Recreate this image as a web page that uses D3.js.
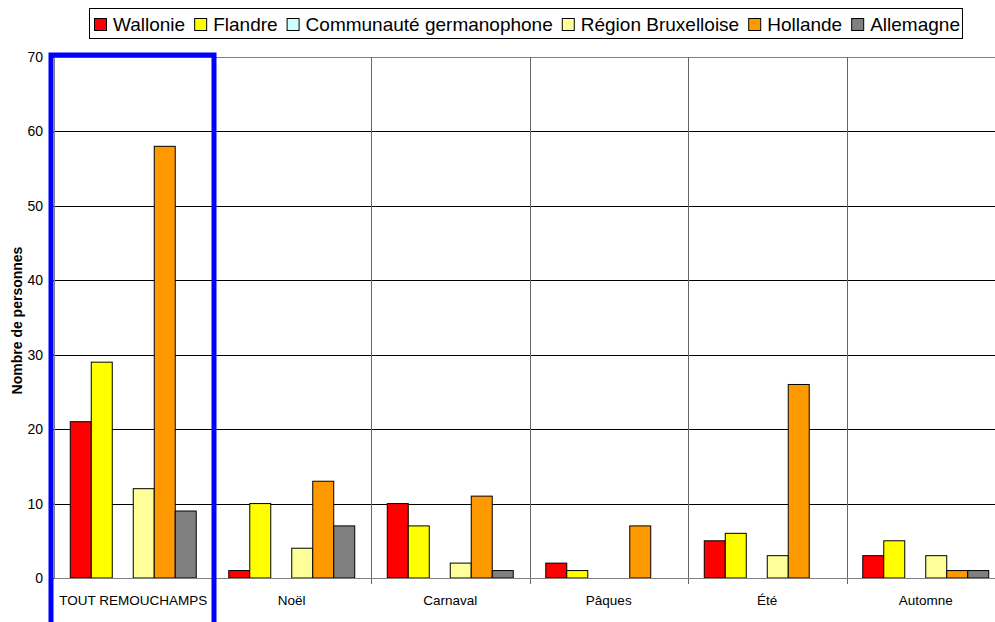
<!DOCTYPE html>
<html lang="fr">
<head>
    <meta charset="UTF-8">
    <title>Nombre de personnes par période</title>
    <script src="https://d3js.org/d3.v7.min.js"></script>
    <style>
        html, body {
            margin: 0;
            background: white;
            font-family: "Liberation Sans", Arial, sans-serif;
        }
    </style>
</head>
<body>
    <div id="vis"></div>
    <script>

        // data
        var categories = ['TOUT REMOUCHAMPS', 'Noël', 'Carnaval', 'Pâques', 'Été', 'Automne'];
        var series = ['Wallonie', 'Flandre', 'Communauté germanophone', 'Région Bruxelloise', 'Hollande', 'Allemagne'];
        var colours = ['#ff0000', '#ffff00', '#ccffff', '#ffff99', '#ff9900', '#808080'];

        var wallonie   = [21, 1, 10, 2, 5, 3];
        var flandre    = [29, 10, 7, 1, 6, 5];
        var germano    = [0, 0, 0, 0, 0, 0];
        var bruxelles  = [12, 4, 2, 0, 3, 3];
        var hollande   = [58, 13, 11, 7, 26, 1];
        var allemagne  = [9, 7, 1, 0, 0, 1];

        var yTicks = [0, 10, 20, 30, 40, 50, 60, 70];

        var values = [wallonie, flandre, germano, bruxelles, hollande, allemagne];

        var width = 995, height = 622;
        var margin = {top: 57, left: 54, bottom: 44};
        var plotRight = 1005;   // the plot runs past the right edge of the picture
        var y0 = height - margin.bottom;

        var svg = d3.select('#vis')
                    .append('svg')
                        .attr('width', width)
                        .attr('height', height);

        var x = d3.scaleBand()
                  .domain(categories)
                  .range([margin.left, plotRight]);

        var y = d3.scaleLinear()
                  .domain([0, 70])
                  .range([y0, margin.top]);

        var bw = x.bandwidth();
        var barW = bw / (series.length + 1.55);
        var xs = d3.scaleBand()
                   .domain(series)
                   .range([barW * 0.775, barW * 0.775 + barW * series.length]);

        // horizontal gridlines
        svg.append('g')
            .selectAll('line')
            .data(yTicks)
            .enter()
            .append('line')
                .attr('x1', margin.left)
                .attr('x2', plotRight)
                .attr('y1', function(d){ return Math.round(y(d)) + 0.5; })
                .attr('y2', function(d){ return Math.round(y(d)) + 0.5; })
                .attr('stroke', function(d){ return d === 70 ? '#808080' : '#000'; })
                .attr('stroke-width', 1);

        // vertical separators between categories
        svg.append('g')
            .selectAll('line')
            .data(categories.slice(1))
            .enter()
            .append('line')
                .attr('x1', function(d){ return Math.round(x(d)) + 0.5; })
                .attr('x2', function(d){ return Math.round(x(d)) + 0.5; })
                .attr('y1', margin.top)
                .attr('y2', y0 + 6)
                .attr('stroke', '#666')
                .attr('stroke-width', 1);

        // bars
        var groups = svg.append('g')
            .selectAll('g')
            .data(categories)
            .enter()
            .append('g')
                .attr('transform', function(d){ return 'translate(' + x(d) + ',0)'; });

        groups.selectAll('rect')
            .data(function(d, i){
                return series.map(function(s, j){ return {s: s, v: values[j][i], c: colours[j]}; });
            })
            .enter()
            .append('rect')
                .filter(function(d){ return d.v > 0; })
                .attr('x', function(d){ return xs(d.s); })
                .attr('y', function(d){ return y(d.v); })
                .attr('width', xs.bandwidth())
                .attr('height', function(d){ return y0 - y(d.v); })
                .attr('fill', function(d){ return d.c; })
                .attr('stroke', '#000')
                .attr('stroke-width', 1);

        // x axis line
        svg.append('line')
            .attr('x1', margin.left)
            .attr('x2', plotRight)
            .attr('y1', Math.round(y0) + 0.5)
            .attr('y2', Math.round(y0) + 0.5)
            .attr('stroke', '#808080');

        // y axis
        var yAxis = d3.axisLeft(y)
                      .tickValues(yTicks)
                      .tickSize(5)
                      .tickPadding(6);

        var gy = svg.append('g')
            .attr('transform', 'translate(' + margin.left + ',0)')
            .call(yAxis);
        gy.select('.domain').attr('stroke', '#808080');
        gy.selectAll('text')
            .attr('font-family', '"Liberation Sans", Arial, sans-serif')
            .attr('font-size', '14px')
            .attr('fill', '#000');

        // category labels
        svg.append('g')
            .selectAll('text')
            .data(categories)
            .enter()
            .append('text')
                .attr('x', function(d){ return x(d) + bw / 2; })
                .attr('y', 605)
                .attr('text-anchor', 'middle')
                .attr('font-size', '13.5px')
                .text(function(d){ return d; });

        svg.append('text')
            .attr('transform', 'translate(22,' + ((margin.top + y0) / 2 + 3) + ')rotate(-90)')
            .attr('text-anchor', 'middle')
            .attr('font-size', '14px')
            .attr('font-weight', 'bold')
            .text('Nombre de personnes');

        // blue highlight around the first group
        svg.append('rect')
            .attr('x', x(categories[0]) - 3)
            .attr('y', margin.top - 2)
            .attr('width', bw + 4.5)
            .attr('height', height)
            .attr('fill', 'none')
            .attr('stroke', '#0000ff')
            .attr('stroke-width', 5);

        // legend
        var legend = svg.append('g');
        var box = legend.append('rect')
            .attr('fill', 'white')
            .attr('stroke', '#000');

        var lx = 94;
        series.forEach(function(s, i){
            legend.append('rect')
                .attr('x', lx + 0.5)
                .attr('y', 18.5)
                .attr('width', 12)
                .attr('height', 12)
                .attr('fill', colours[i])
                .attr('stroke', '#000');
            var t = legend.append('text')
                .attr('x', lx + 19)
                .attr('y', 31)
                .attr('font-size', '19px')
                .text(s);
            lx = lx + 19 + t.node().getComputedTextLength() + 9;
        });

        box.attr('x', 89.5)
           .attr('y', 8.5)
           .attr('width', lx - 9 + 2 - 89)
           .attr('height', 30);

    </script>
</body>
</html>
